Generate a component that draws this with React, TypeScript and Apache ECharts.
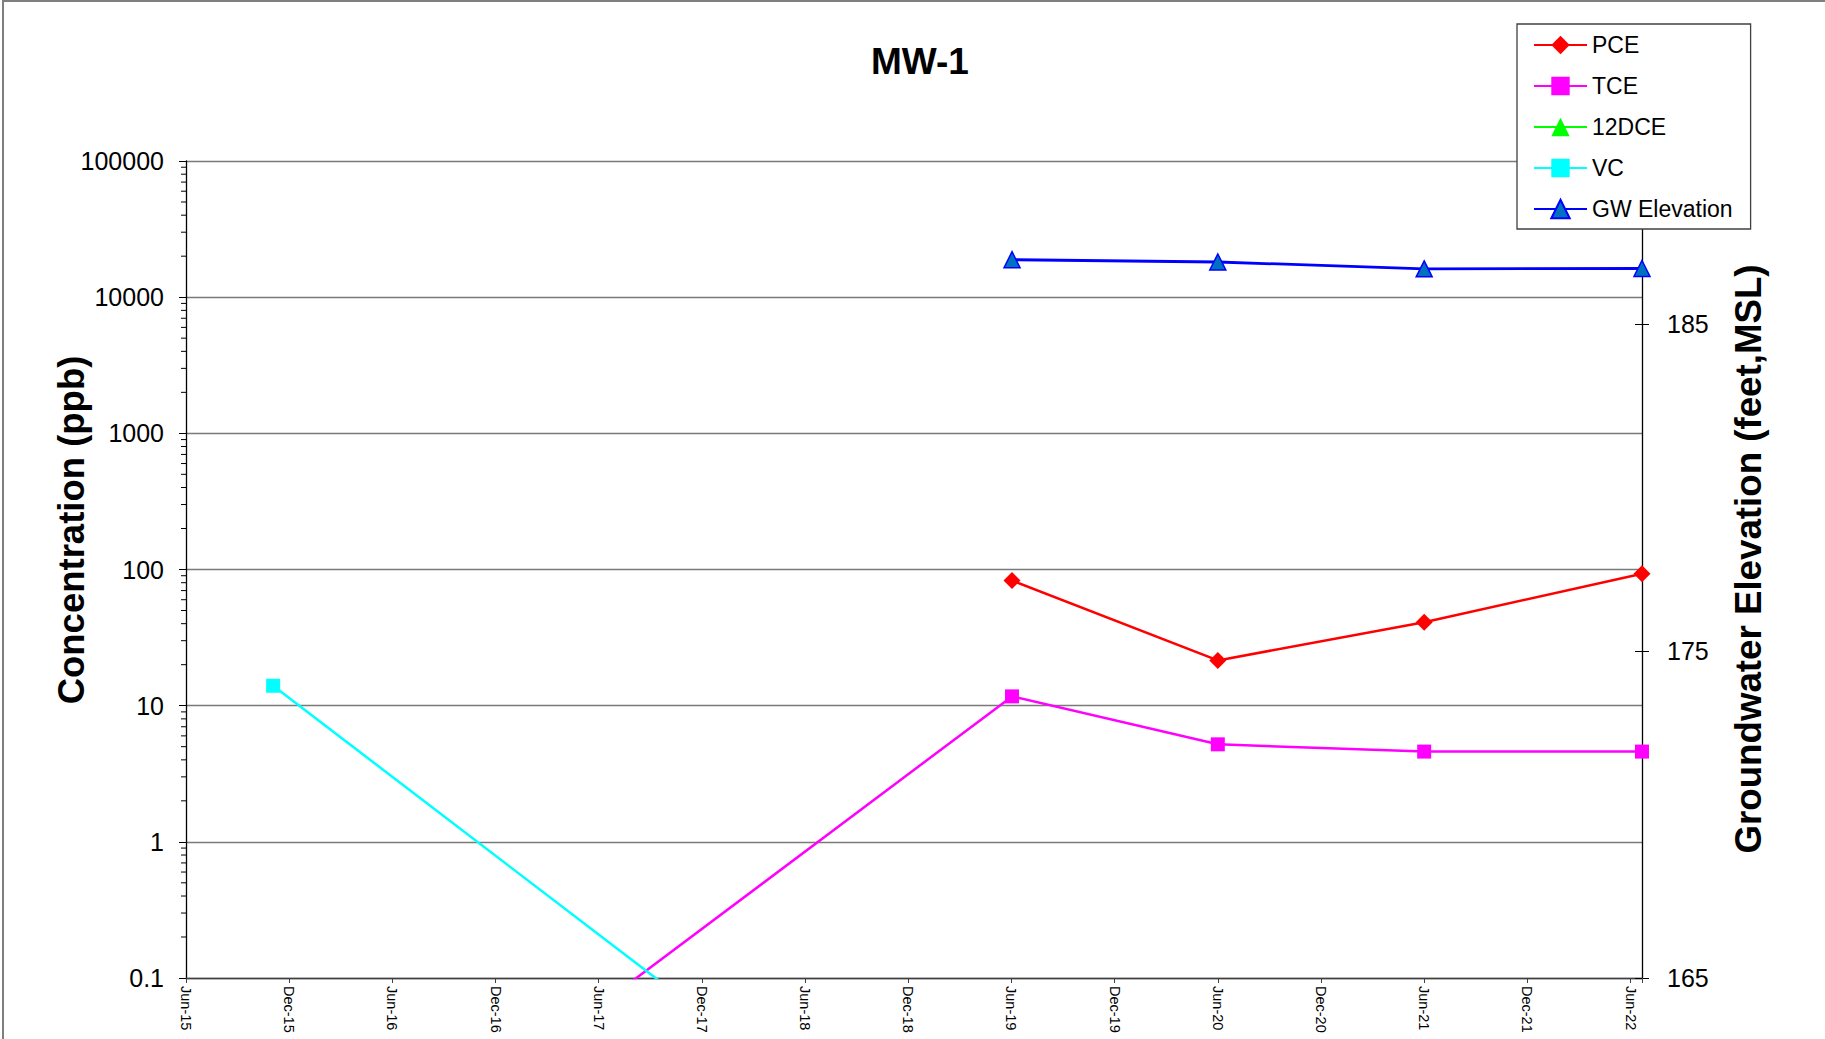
import React, { useEffect, useRef } from "react";
import * as echarts from "echarts";

const FONT = '"Liberation Sans", Arial, Helvetica, sans-serif';

// Sampling events
const sampleDates = ["2015-11-03", "2019-06-02", "2020-06-01", "2021-06-01", "2022-06-21"];
// Concentrations (ppb); 0.001 = non-detect placeholder plotted below the axis
const pceValues = [null, 83, 21.5, 41, 93];
const tceValues = [0.001, 11.7, 5.2, 4.6, 4.6];
const dce12Values = [0.001, 0.001, 0.001, 0.001, 0.001];
const vcValues = [14, 0.001, 0.001, 0.001, 0.001];
// Groundwater elevation (feet, MSL)
const gwValues = [null, 186.98, 186.91, 186.7, 186.71];

const xTickLabels = [
  "Jun-15", "Dec-15", "Jun-16", "Dec-16", "Jun-17", "Dec-17", "Jun-18", "Dec-18",
  "Jun-19", "Dec-19", "Jun-20", "Dec-20", "Jun-21", "Dec-21", "Jun-22",
];
const leftTickLabels = ["0.1", "1", "10", "100", "1000", "10000", "100000"];
const rightTickLabels = ["165", "175", "185"];
const minorMultipliers = [2, 3, 4, 5, 6, 7, 8, 9];
const decades = [0.1, 1, 10, 100, 1000, 10000];

// months since Jun 1 2015
function toMonths(s: string): number {
  const [y, m, d] = s.split("-").map(Number);
  const dim = new Date(y, m, 0).getDate();
  return (y - 2015) * 12 + (m - 6) + (d - 1) / dim;
}

function pairs(vals: (number | null)[]) {
  const out: number[][] = [];
  sampleDates.forEach((d, i) => {
    const v = vals[i];
    if (v != null) out.push([toMonths(d), v]);
  });
  return out;
}

export default function App() {
  const ref = useRef<HTMLDivElement>(null);

  useEffect(() => {
    document.body.style.margin = "0";
    const chart = echarts.init(ref.current!, undefined, { renderer: "svg" });
    const xMax = toMonths(sampleDates[sampleDates.length - 1]);

    const minorData: number[][] = [];
    decades.forEach((d) => minorMultipliers.forEach((m) => minorData.push([0, d * m])));

    const lineBase = (name: string, color: string, symbol: string, size: number, vals: (number | null)[], extra: any = {}) => ({
      name,
      type: "line",
      data: pairs(vals),
      symbol,
      symbolSize: size,
      clip: true,
      lineStyle: { color, width: 2.5 },
      itemStyle: { color },
      emphasis: { disabled: true },
      ...extra,
    });

    const option: any = {
      animation: false,
      backgroundColor: "#ffffff",
      textStyle: { fontFamily: FONT },
      grid: { left: 186, right: 183, top: 161, bottom: 61, containLabel: false },
      legend: {
        orient: "vertical",
        left: 1517,
        top: 24,
        padding: [9, 18, 8, 16],
        itemWidth: 53,
        itemHeight: 23,
        itemGap: 17,
        backgroundColor: "#ffffff",
        borderColor: "#404040",
        borderWidth: 1.3,
        z: 20,
        textStyle: { fontSize: 23, fontFamily: FONT, color: "#000", lineHeight: 24 },
        data: ["PCE", "TCE", "12DCE", "VC", "GW Elevation"],
      },
      xAxis: {
        type: "value",
        min: 0,
        max: xMax,
        interval: 6,
        axisLine: { show: true, onZero: false, lineStyle: { color: "#404040", width: 1.3 } },
        axisTick: { show: true, length: 5, lineStyle: { color: "#404040" } },
        splitLine: { show: false },
        axisLabel: {
          rotate: -90,
          margin: 8,
          fontSize: 14.5,
          fontFamily: FONT,
          color: "#000",
          formatter: (v: number) => {
            const i = Math.round(v / 6);
            return Math.abs(v - i * 6) < 1e-6 ? xTickLabels[i] ?? "" : "";
          },
        },
      },
      yAxis: [
        {
          type: "log",
          logBase: 10,
          min: 0.1,
          max: 100000,
          splitNumber: 6,
          axisLine: { show: true, lineStyle: { color: "#000", width: 1.3 } },
          axisTick: { show: true, length: 7, lineStyle: { color: "#000" } },
          splitLine: { show: true, lineStyle: { color: "#7a7a7a", width: 1.3 } },
          axisLabel: {
            margin: 22,
            fontSize: 25,
            fontFamily: FONT,
            color: "#000",
            formatter: (v: number) => leftTickLabels[Math.round(Math.log10(v)) + 1] ?? "",
          },
        },
        {
          type: "value",
          position: "right",
          min: 165,
          max: 190,
          interval: 10,
          axisLine: { show: true, lineStyle: { color: "#000", width: 1.3 } },
          axisTick: { show: true, length: 7, lineStyle: { color: "#000" } },
          splitLine: { show: false },
          axisLabel: {
            margin: 25,
            fontSize: 25,
            fontFamily: FONT,
            color: "#000",
            formatter: (v: number) => (rightTickLabels.includes(String(v)) ? String(v) : ""),
          },
        },
        {
          type: "value",
          position: "right",
          min: 165,
          max: 190,
          interval: 10,
          axisLine: { show: false },
          axisTick: { show: true, inside: true, length: 7, lineStyle: { color: "#000" } },
          splitLine: { show: false },
          axisLabel: { show: false },
        },
      ],
      graphic: [
        {
          type: "rect",
          z: -1,
          silent: true,
          shape: { x: 3, y: 1, width: 1900, height: 1100 },
          style: { fill: "none", stroke: "#7f7f7f", lineWidth: 2 },
        },
        {
          type: "text",
          x: 920,
          y: 61,
          style: { text: "MW-1", fontSize: 37, fontWeight: "bold", fontFamily: FONT, fill: "#000", align: "center", verticalAlign: "middle" },
        },
        {
          type: "text",
          x: 71,
          y: 530,
          rotation: Math.PI / 2,
          style: { text: "Concentration (ppb)", fontSize: 36.5, fontWeight: "bold", fontFamily: FONT, fill: "#000", align: "center", verticalAlign: "middle" },
        },
        {
          type: "text",
          x: 1748,
          y: 559,
          rotation: Math.PI / 2,
          style: { text: "Groundwater Elevation (feet,MSL)", fontSize: 36.7, fontWeight: "bold", fontFamily: FONT, fill: "#000", align: "center", verticalAlign: "middle" },
        },
      ],
      series: [
        {
          name: "minorTicks",
          type: "custom",
          xAxisIndex: 0,
          yAxisIndex: 0,
          silent: true,
          clip: false,
          data: minorData,
          renderItem: (params: any, api: any) => {
            const p = api.coord([api.value(0), api.value(1)]);
            return {
              type: "line",
              shape: { x1: p[0] - 5, y1: p[1], x2: p[0], y2: p[1] },
              style: { stroke: "#000", lineWidth: 1 },
            };
          },
        },
        lineBase("PCE", "#ff0000", "diamond", 17, pceValues),
        lineBase("TCE", "#ff00ff", "rect", 14, tceValues),
        lineBase("12DCE", "#00ff00", "triangle", 14, dce12Values),
        lineBase("VC", "#00ffff", "rect", 14, vcValues),
        lineBase("GW Elevation", "#0000ff", "triangle", 16, gwValues, {
          yAxisIndex: 1,
          itemStyle: { color: "#0070c0", borderColor: "#0000ff", borderWidth: 1.5 },
          lineStyle: { color: "#0000ff", width: 2.8 },
        }),
      ],
    };

    chart.setOption(option);
    return () => chart.dispose();
  }, []);

  return <div ref={ref} style={{ position: "absolute", left: 0, top: 0, width: 1825, height: 1039 }} />;
}
